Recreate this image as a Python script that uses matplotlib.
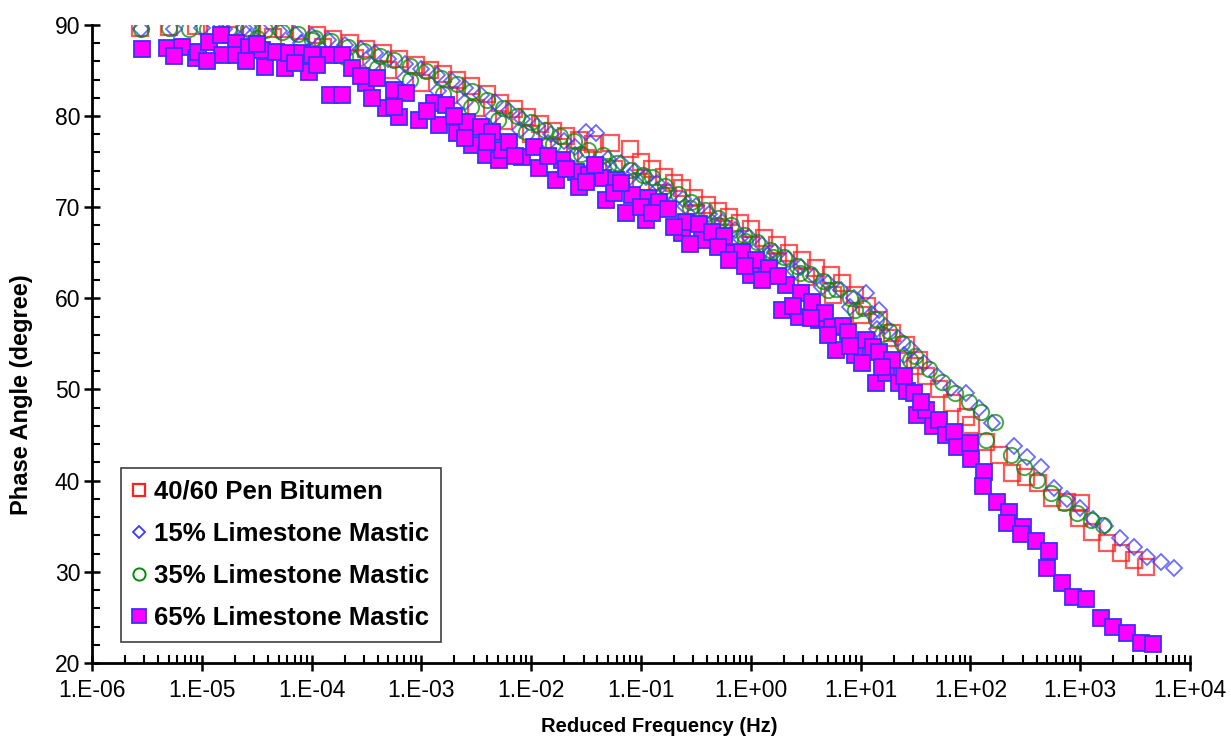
import matplotlib
matplotlib.use("Agg")
import matplotlib.pyplot as plt
from matplotlib.ticker import MultipleLocator, LogLocator, FuncFormatter, NullFormatter
import numpy as np

plt.rcParams['font.family'] = ['Liberation Sans', 'DejaVu Sans']

# 40/60 pen bitumen: reduced frequency (Hz) and phase angle (deg)
bit_freq = [2.75e-6, 5.0e-6, 8.9e-6, 1.32e-5, 2.0e-5, 2.82e-5, 3.98e-5, 5.62e-5, 7.94e-5,
            1.12e-4, 1.58e-4, 2.24e-4, 3.16e-4, 4.47e-4, 6.31e-4, 8.91e-4, 1.2e-3, 1.58e-3,
            2.09e-3, 2.82e-3, 3.98e-3, 5.25e-3, 6.92e-3, 9.12e-3, 1.2e-2, 1.58e-2, 2.09e-2,
            2.75e-2, 3.63e-2, 5.37e-2, 7.94e-2, 0.1, 0.126, 0.162, 0.2, 0.234, 0.302, 0.398,
            0.501, 0.631, 0.794, 1.0, 1.32, 1.74, 2.24, 2.95, 3.89, 5.37, 6.76, 8.91, 11.5,
            14.8, 19.5, 25.7, 33.9, 39.8, 51.3, 67.6, 91.2, 102.0, 138.0, 182.0, 240.0, 324.0,
            417.0, 550.0, 759.0, 977.0, 1023.0, 1288.0, 1738.0, 2344.0, 3090.0, 3981.0,
            1.78e-5, 4.47e-5, 1.26e-4, 2.51e-4, 5.01e-4, 1.0e-3, 1.78e-3, 3.16e-3, 5.62e-3,
            1.0e-2, 1.78e-2, 3.16e-2, 5.62e-2, 0.1, 0.178, 0.316, 0.562, 1.0, 1.78, 3.16,
            5.62, 10.0, 17.8, 31.6]
bit_phase = [89.7, 89.8, 89.9, 89.6, 89.8, 89.7, 89.6, 89.5, 89.3, 88.9, 88.5, 88.0, 87.4,
             86.9, 86.3, 85.6, 85.0, 84.6, 84.0, 83.3, 82.4, 81.4, 80.8, 79.9, 79.1, 78.4,
             77.8, 77.4, 76.9, 77.0, 76.4, 75.0, 74.2, 73.3, 72.6, 72.1, 71.0, 70.2, 69.6,
             68.9, 68.3, 67.6, 66.6, 65.8, 65.0, 64.2, 63.3, 62.6, 61.7, 60.4, 59.2, 57.6,
             56.2, 54.9, 53.2, 51.5, 50.0, 48.5, 47.0, 46.1, 44.2, 42.8, 40.8, 40.4, 39.7,
             38.1, 37.7, 35.9, 37.6, 34.4, 33.2, 32.1, 31.3, 30.5,
             88.9, 88.7, 87.6, 86.4, 85.0, 83.6, 82.3, 80.9, 79.5, 78.0, 76.6, 75.4, 74.2,
             72.8, 71.2, 69.4, 67.6, 65.8, 64.0, 62.3, 60.4, 58.2, 55.6, 52.6]

# 15% limestone mastic
m15_freq = [2.82e-6, 5.62e-6, 1.0e-5, 1.58e-5, 2.4e-5, 3.47e-5, 5.01e-5, 7.08e-5, 1.0e-4,
            1.41e-4, 2.0e-4, 2.82e-4, 3.8e-4, 5.01e-4, 7.08e-4, 1.0e-3, 1.38e-3, 1.91e-3,
            2.51e-3, 3.47e-3, 4.68e-3, 6.31e-3, 8.32e-3, 1.12e-2, 1.51e-2, 2.0e-2, 2.51e-2,
            3.16e-2, 3.89e-2, 5.01e-2, 6.61e-2, 8.91e-2, 0.112, 0.141, 0.178, 0.24, 0.316,
            0.417, 0.55, 0.724, 0.955, 1.26, 1.66, 2.19, 2.88, 3.8, 5.01, 6.61, 8.71, 11.2,
            12.6, 14.8, 16.6, 21.9, 28.8, 38.0, 50.1, 66.1, 91.2, 120.0, 158.0, 251.0, 331.0,
            437.0, 575.0, 759.0, 1000.0, 1318.0, 1698.0, 2291.0, 3090.0, 4074.0, 5495.0,
            7079.0,
            2.51e-5, 7.94e-5, 1.78e-4, 3.55e-4, 7.08e-4, 1.41e-3, 2.51e-3, 4.47e-3, 7.94e-3,
            1.41e-2, 2.51e-2, 4.47e-2, 7.94e-2, 0.141, 0.251, 0.447, 0.794, 1.41, 2.51, 4.47,
            7.94, 14.1, 25.1]
m15_phase = [89.5, 89.6, 89.7, 89.5, 89.7, 89.4, 89.3, 89.0, 88.8, 88.3, 87.8, 87.3, 86.9,
             86.2, 85.7, 85.2, 84.5, 83.8, 83.1, 82.3, 81.5, 80.5, 79.7, 78.9, 78.0, 77.3,
             76.6, 78.3, 78.1, 75.3, 74.8, 74.0, 73.3, 72.6, 71.8, 70.9, 70.1, 69.2, 68.4,
             67.5, 66.7, 65.9, 65.1, 64.3, 63.4, 62.5, 61.7, 60.9, 60.0, 60.6, 58.3, 58.7,
             57.0, 55.7, 54.4, 52.9, 51.5, 50.2, 49.6, 48.0, 46.3, 43.8, 42.6, 41.5, 39.2,
             38.0, 37.0, 35.8, 35.0, 33.7, 32.7, 31.6, 31.1, 30.4,
             89.0, 88.0, 86.9, 85.6, 84.2, 82.7, 81.5, 80.0, 78.5, 77.0, 75.7, 74.6, 73.3,
             71.9, 70.1, 68.4, 66.6, 64.8, 63.0, 61.2, 59.0, 56.6, 53.8]

# 35% limestone mastic
m35_freq = [2.82e-6, 5.01e-6, 7.59e-6, 1.12e-5, 1.78e-5, 2.63e-5, 3.8e-5, 5.37e-5, 7.59e-5,
            1.07e-4, 1.51e-4, 2.14e-4, 3.02e-4, 4.17e-4, 5.62e-4, 7.94e-4, 1.1e-3, 1.51e-3,
            2.09e-3, 2.88e-3, 3.98e-3, 5.5e-3, 7.41e-3, 1.0e-2, 1.35e-2, 1.82e-2, 2.45e-2,
            3.31e-2, 4.47e-2, 6.03e-2, 7.94e-2, 0.105, 0.126, 0.166, 0.219, 0.288, 0.38,
            0.501, 0.661, 0.871, 1.15, 1.51, 2.0, 2.63, 3.47, 4.57, 6.03, 7.94, 10.5, 13.8,
            18.2, 24.0, 31.6, 41.7, 55.0, 72.4, 97.7, 126.0, 138.0, 166.0, 234.0, 309.0,
            407.0, 537.0, 708.0, 933.0, 1259.0, 1622.0,
            3.16e-5, 1.0e-4, 2.0e-4, 3.98e-4, 7.94e-4, 1.58e-3, 2.82e-3, 5.01e-3, 8.91e-3,
            1.58e-2, 2.82e-2, 5.01e-2, 8.91e-2, 0.158, 0.282, 0.501, 0.891, 1.58, 2.82, 5.01,
            8.91, 15.8, 28.2]
m35_phase = [89.6, 89.7, 89.5, 89.6, 89.7, 89.5, 89.4, 89.2, 89.0, 88.6, 88.2, 87.6, 87.1,
             86.6, 86.1, 85.5, 84.9, 84.2, 83.5, 82.7, 81.8, 80.9, 80.0, 79.3, 78.5, 77.8,
             77.3, 76.3, 75.7, 74.9, 74.1, 73.5, 73.3, 72.3, 71.4, 70.6, 69.7, 68.8, 68.0,
             67.0, 66.2, 65.3, 64.5, 63.6, 62.7, 61.9, 61.0, 60.0, 58.9, 57.7, 56.4, 55.1,
             53.7, 52.3, 50.8, 49.6, 48.6, 47.5, 44.5, 46.4, 42.8, 41.5, 40.1, 38.6, 37.6,
             36.5, 35.7, 35.1,
             88.6, 88.3, 86.5, 85.3, 83.9, 82.4, 81.0, 79.6, 78.2, 76.9, 75.8, 74.5, 73.0,
             71.5, 69.9, 68.0, 66.3, 64.5, 62.8, 60.9, 58.7, 56.1, 53.2]

# 65% limestone mastic
m65_freq = [2.88e-6, 4.79e-6, 6.61e-6, 8.91e-6, 9.33e-6, 1.17e-5, 1.51e-5, 1.52e-5, 2.04e-5,
            2.05e-5, 2.69e-5, 3.55e-5, 3.8e-5, 4.79e-5, 5.75e-5, 6.17e-5, 8.13e-5, 9.55e-5,
            1.0e-4, 1.45e-4, 1.48e-4, 1.91e-4, 1.9e-4, 2.34e-4, 3.16e-4, 3.98e-4, 4.79e-4,
            5.62e-4, 6.31e-4, 7.24e-4, 9.55e-4, 1.29e-3, 1.45e-3, 1.66e-3, 2.09e-3, 2.63e-3,
            2.88e-3, 3.47e-3, 3.89e-3, 4.37e-3, 5.13e-3, 5.37e-3, 6.31e-3, 8.32e-3, 1.17e-2,
            1.7e-2, 1.91e-2, 2.57e-2, 2.75e-2, 3.39e-2, 4.47e-2, 4.79e-2, 5.89e-2, 7.24e-2,
            8.32e-2, 0.112, 0.117, 0.145, 0.234, 0.257, 0.339, 0.363, 0.447, 0.575, 0.708,
            0.832, 1.0, 1.12, 1.48, 1.91, 2.09, 2.75, 2.88, 3.63, 4.17, 4.79, 5.5, 6.03,
            6.92, 7.76, 8.91, 10.2, 11.2, 12.9, 13.8, 14.8, 17.0, 19.5, 22.4, 26.3, 30.9,
            32.4, 39.8, 45.7, 51.3, 60.3, 70.8, 75.9, 100.0, 101.0, 132.0, 129.0, 174.0,
            224.0, 214.0, 302.0, 288.0, 398.0, 525.0, 501.0, 676.0, 851.0, 1122.0, 1549.0,
            1995.0, 2692.0, 3548.0, 4571.0,
            5.62e-6, 1.12e-5, 2.51e-5, 3.16e-5, 7.08e-5, 1.12e-4, 2.82e-4, 3.55e-4, 5.62e-4,
            1.12e-3, 2.0e-3, 2.51e-3, 3.98e-3, 7.08e-3, 1.05e-2, 1.41e-2, 2.09e-2, 3.16e-2,
            3.8e-2, 5.62e-2, 6.61e-2, 0.1, 0.126, 0.178, 0.2, 0.282, 0.501, 0.631, 0.891,
            1.26, 1.78, 2.4, 3.55, 5.01, 7.94, 15.8, 25.1, 35.5]
m65_phase = [87.3, 87.5, 87.6, 86.4, 87.0, 88.1, 88.9, 86.7, 88.0, 86.7, 87.6, 87.2, 85.4,
             87.0, 85.3, 86.9, 86.9, 84.8, 86.7, 86.7, 82.3, 86.7, 82.3, 85.3, 83.6, 84.2,
             80.9, 82.9, 79.9, 82.5, 79.6, 81.4, 79.0, 81.2, 78.1, 79.3, 76.8, 78.8, 75.7,
             78.3, 75.2, 76.3, 77.2, 75.5, 74.3, 73.0, 75.2, 73.9, 72.2, 73.5, 73.2, 70.8,
             73.0, 69.4, 71.3, 68.6, 71.0, 70.6, 67.2, 68.4, 68.1, 66.4, 67.3, 66.8, 65.0,
             65.1, 62.6, 64.2, 63.3, 58.7, 61.5, 58.0, 60.6, 59.6, 57.6, 58.4, 56.9, 54.3,
             57.0, 56.3, 53.8, 52.9, 55.4, 54.7, 50.7, 54.1, 51.8, 53.2, 50.7, 49.8, 49.6,
             47.2, 47.8, 46.0, 46.7, 45.0, 45.3, 43.7, 44.1, 42.4, 41.0, 39.4, 37.7, 36.6,
             35.4, 34.9, 34.2, 33.4, 32.3, 30.4, 28.8, 27.2, 27.0, 24.9, 23.9, 23.3, 22.2,
             22.1,
             86.6, 86.0, 86.0, 87.9, 85.8, 85.6, 84.4, 82.0, 81.0, 80.6, 80.0, 77.6, 77.2,
             75.6, 76.6, 75.6, 74.2, 72.8, 74.6, 71.6, 72.6, 70.0, 69.4, 69.8, 67.8, 66.0,
             65.6, 64.2, 63.6, 62.0, 62.4, 59.2, 57.8, 56.0, 54.8, 52.5, 51.5, 48.6]

labels = ['40/60 Pen Bitumen', '15% Limestone Mastic', '35% Limestone Mastic',
          '65% Limestone Mastic']
decade_ticks = [1e-6, 1e-5, 1e-4, 1e-3, 1e-2, 1e-1, 1e0, 1e1, 1e2, 1e3, 1e4]

fig = plt.figure(figsize=(12.31, 7.42), dpi=100)
ax = fig.add_axes([0.0747, 0.1065, 0.892, 0.860])

ax.plot(bit_freq, bit_phase, linestyle='none', marker='s', markersize=11,
        markerfacecolor='none', markeredgecolor='#ff2020', markeredgewidth=1.6,
        alpha=0.75, label=labels[0])
ax.plot(m15_freq, m15_phase, linestyle='none', marker='D', markersize=8,
        markerfacecolor='none', markeredgecolor='#3a3aff', markeredgewidth=1.3,
        alpha=0.75, label=labels[1])
ax.plot(m35_freq, m35_phase, linestyle='none', marker='o', markersize=11,
        markerfacecolor='none', markeredgecolor='#0a8a0a', markeredgewidth=1.4,
        alpha=0.75, label=labels[2])
ax.plot(m65_freq, m65_phase, linestyle='none', marker='s', markersize=12,
        markerfacecolor='#ff00ff', markeredgecolor='#3a30ff', markeredgewidth=1.3,
        label=labels[3])

ax.set_xscale('log')
ax.set_xlim(1e-6, 1e4)
ax.set_ylim(20, 90)

ax.set_xticks(decade_ticks)
ax.xaxis.set_minor_locator(LogLocator(base=10, subs=np.arange(2, 10), numticks=200))
ax.xaxis.set_minor_formatter(NullFormatter())
ax.xaxis.set_major_formatter(FuncFormatter(lambda v, p: '1.E%+03d' % int(round(np.log10(v)))))
ax.yaxis.set_major_locator(MultipleLocator(10))
ax.yaxis.set_minor_locator(MultipleLocator(2))

for side in ['top', 'right']:
    ax.spines[side].set_visible(False)
for side in ['left', 'bottom']:
    ax.spines[side].set_linewidth(2)
ax.tick_params(which='major', direction='inout', length=11, width=1.8, labelsize=16.5)
ax.tick_params(axis='x', which='major', pad=6)
ax.tick_params(axis='y', which='major', pad=3)
ax.tick_params(which='minor', direction='in', length=6, width=1.5)

ax.set_xlabel('Reduced Frequency (Hz)', fontsize=14.5, fontweight='bold', va='center')
ax.xaxis.set_label_coords(0.517, -0.1)
ax.set_ylabel('Phase Angle (degree)', fontsize=17, fontweight='bold')
ax.yaxis.set_label_coords(-0.054, 0.42)

leg = ax.legend(loc='lower left', bbox_to_anchor=(0.026, 0.033), borderaxespad=0,
                prop={'weight': 'bold', 'size': 18.5}, markerscale=0.8, handlelength=0.55,
                handletextpad=0.3, labelspacing=0.71, borderpad=0.45, fancybox=False,
                framealpha=1)
leg.get_frame().set_edgecolor('#404040')
leg.get_frame().set_linewidth(1.2)
for h in leg.legend_handles:
    h.set_alpha(1)

fig.savefig('out.png', dpi=100)
